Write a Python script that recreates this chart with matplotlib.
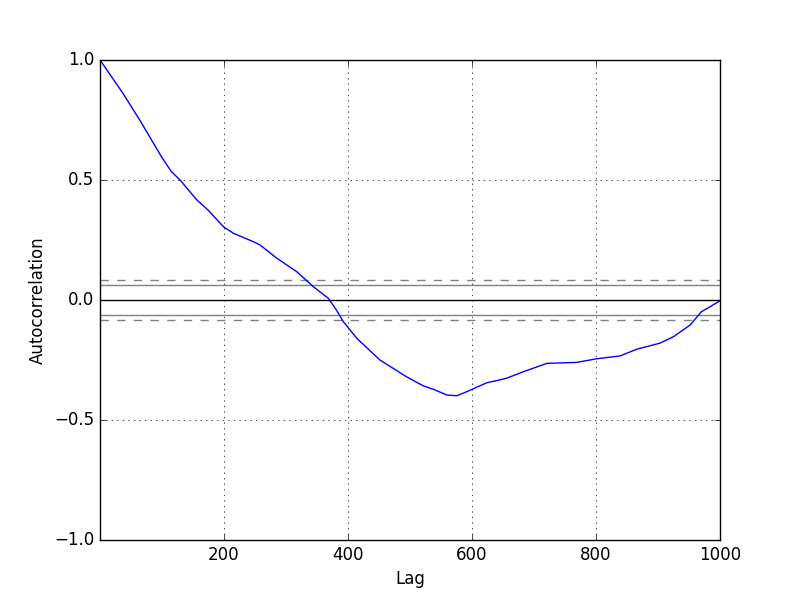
import matplotlib
matplotlib.use("Agg")
import matplotlib.pyplot as plt
import numpy as np

plt.style.use('classic')

n = 1000
# values
lags = [1, 38, 65, 100, 116, 130, 157, 175, 200, 216, 248, 259, 286, 318,
        345, 369, 382, 393, 415, 452, 495, 522, 538, 560, 576, 592, 624,
        645, 656, 683, 721, 769, 801, 839, 866, 903, 925, 952, 970, 984, 1000]
acf = [1.0, 0.861, 0.75, 0.597, 0.535, 0.5, 0.417, 0.375, 0.305, 0.278,
       0.243, 0.229, 0.174, 0.118, 0.055, 0.007, -0.042, -0.090, -0.160,
       -0.25, -0.32, -0.358, -0.372, -0.396, -0.399, -0.382, -0.345, -0.333,
       -0.326, -0.299, -0.264, -0.260, -0.245, -0.233, -0.205, -0.180,
       -0.153, -0.104, -0.049, -0.028, -0.003]

z95 = 1.959963984540054
z99 = 2.5758293035489004

fig = plt.figure(figsize=(8, 6), dpi=100)
ax = fig.add_subplot(111)
ax.set_xlim(1, n)
ax.set_ylim(-1.0, 1.0)
ax.axhline(y=z99 / np.sqrt(n), linestyle='--', color='grey')
ax.axhline(y=z95 / np.sqrt(n), color='grey')
ax.axhline(y=0.0, color='black')
ax.axhline(y=-z95 / np.sqrt(n), color='grey')
ax.axhline(y=-z99 / np.sqrt(n), linestyle='--', color='grey')
ax.plot(lags, acf, color='b')
ax.set_xlabel('Lag')
ax.set_ylabel('Autocorrelation')
ax.grid()
fig.savefig('out.png', dpi=100)
